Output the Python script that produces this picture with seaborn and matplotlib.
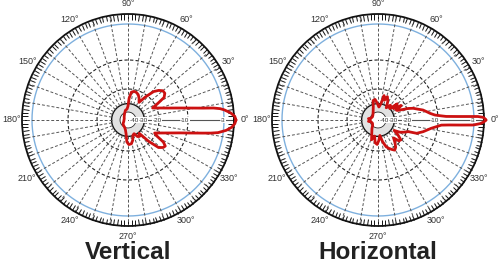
import numpy as np
import matplotlib
matplotlib.use("Agg")
import matplotlib.pyplot as plt
import seaborn as sns

sns.set_theme(style="white")
plt.rcParams["font.family"] = ["Liberation Sans", "DejaVu Sans"]

# ---------------- data (dB relative to peak, angle in degrees) ----------------
VERT_ANGLES = [0, 2, 4, 6, 7, 8, 9, 10, 12, 14, 17, 20, 23, 26, 29, 32, 36, 40, 44, 48,
               53, 58, 63, 68, 73, 78, 83, 87, 90, 95, 105, 120, 140, 160, 180, 200,
               215, 230, 245, 255, 262, 267, 272, 278, 283, 288, 294, 300, 305, 310,
               314, 318, 322, 325, 328, 331, 334, 337, 340, 343, 346, 348, 350, 351,
               352, 354, 356, 358, 360]
VERT_DB = [0, -0.3, -1.3, -2.8, -3.6, -4.9, -6.9, -8.3, -10.8, -13.6, -16.6, -18.6, -20.2,
           -22.5, -19.0, -16.0, -15.0, -15.0, -16.0, -17.5, -21.5, -27.0, -24.5, -22.5,
           -21.5, -21.2, -22.0, -26.2, -33.0, -36.4, -37.6, -42.5, -47.5, -50.0, -50.0,
           -48.7, -45.0, -42.5, -40.0, -37.6, -33.0, -26.2, -24.4, -24.8, -26.9, -30.5,
           -31.7, -28.1, -27.5, -29.4, -21.0, -16.5, -15.3, -15.0, -16.3, -19.3, -20.9,
           -19.2, -17.6, -15.4, -12.3, -9.5, -7.0, -5.4, -4.0, -2.3, -1.0, -0.3, 0]

HORZ_ANGLES = [0, 1, 1.5, 2, 2.5, 3, 3.7, 5, 7.3, 10, 12.5, 15.5, 18.4, 21, 23, 26, 28,
               32, 36, 40, 44, 50, 56, 62, 68, 72, 76, 80, 86, 92, 98, 104, 110, 120,
               135, 150, 165, 172, 178, 180, 182, 188, 195, 210, 225, 235, 245, 252,
               258, 263, 268, 272, 277, 282, 287, 291, 295, 299, 303, 307, 311, 315,
               319, 323, 327, 331, 335, 339, 341, 345.5, 351, 355.4, 356, 356.5, 357,
               358, 359, 360]
HORZ_DB = [0, -0.4, -0.8, -2.0, -6.1, -8.4, -9.3, -11.0, -12.6, -13.8, -14.8, -16.6,
           -17.9, -19.6, -22.8, -26.2, -27.0, -22.5, -28.0, -24.0, -30.0, -28.0, -32.0,
           -27.0, -24.0, -27.0, -24.0, -30.0, -34.0, -30.0, -27.0, -27.5, -33.0, -38.0,
           -42.0, -44.0, -42.0, -38.0, -40.0, -40.0, -40.0, -38.0, -42.0, -44.0, -41.0,
           -37.0, -32.0, -27.0, -30.0, -25.5, -24.5, -27.0, -31.0, -26.0, -22.0, -20.4,
           -19.5, -18.8, -19.5, -22.0, -25.0, -21.0, -20.5, -24.0, -28.0, -24.0, -21.5,
           -19.5, -16.6, -14.6, -12.2, -9.3, -7.8, -5.6, -3.1, -1.4, -0.5, 0]

RING_DB = [-40, -30, -20, -10, -3]
RING_LABELS = ["-40", "-30", "-20", "-10", "-3"]
ANGLE_TICKS = list(range(0, 360, 30))
ANGLE_LABELS = [f"{a}°" for a in ANGLE_TICKS]
TITLES = ["Vertical", "Horizontal"]

# ---------------- radial (modified log) scale ----------------
DB_KNOTS = np.array([-60.0, -40.0, -30.0, -20.0, -10.0, -3.0, 0.0])
R_KNOTS = np.array([0.0, 8.0, 16.4, 31.0, 60.0, 96.0, 108.0])
RTOP = -0.5   # outer ring


def fwd(x):
    return np.interp(np.asarray(x, dtype=float), DB_KNOTS, R_KNOTS)


def inv(y):
    return np.interp(np.asarray(y, dtype=float), R_KNOTS, DB_KNOTS)


RED = "#cc1111"
BLUE = "#7eb0de"

fig = plt.figure(figsize=(5, 2.67), dpi=100)
W, H = 500, 267
RPX = 106
centers = [(128, 120), (378, 120)]


def draw(ax, angles, db, title, cx):
    ax.set_rscale("function", functions=(fwd, inv))
    th = np.deg2rad(np.linspace(0, 360, 721))
    ax.fill_between(th, -40, -30, color="#e2e2e2", lw=0, zorder=1)
    ax.plot(th, np.full_like(th, -40.0), color="#222222", lw=0.6, zorder=2)
    ax.plot(th, np.full_like(th, -30.0), color="#111111", lw=1.0, zorder=2)
    for v in (-20, -10):
        ax.plot(th, np.full_like(th, float(v)), color="#222222", lw=0.8,
                ls=(0, (3, 2)), zorder=2)
    ax.plot(th, np.full_like(th, -3.0), color=BLUE, lw=1.0, zorder=2)
    for a in range(10, 360, 10):
        r = np.deg2rad(a)
        ax.plot([r, r], [-30, RTOP], color="#555555", lw=0.7, ls=(0, (3, 2)), zorder=2)
    ax.plot([0, 0], [-60, RTOP], color="#555555", lw=0.8, zorder=2)

    sns.lineplot(x=np.deg2rad(angles), y=db, sort=False, estimator=None, ax=ax,
                 color=RED, linewidth=2.0, clip_on=False, zorder=5)

    ax.set_rlim(-60, RTOP)
    ax.set_yticks([])
    ax.grid(False)
    ax.set_xlabel("")
    ax.set_ylabel("")
    ax.set_xticks(np.deg2rad(ANGLE_TICKS))
    ax.set_xticklabels(ANGLE_LABELS, fontsize=6.5, color="#333333")
    ax.set_xticks(np.deg2rad(np.arange(0, 360, 2)), minor=True)
    ax.tick_params(axis="x", which="both", direction="in", bottom=False, top=True,
                   length=4, width=0.7, color="#111111", pad=0.5)
    ax.spines["polar"].set_linewidth(1.3)
    ax.spines["polar"].set_color("#111111")

    offs = [-4.8, -1.3, -1.2, -1.1, -0.2]
    for v, lab, o in zip(RING_DB, RING_LABELS, offs):
        ax.text(0, v + o, lab, fontsize=4.6, color="#333333", ha="center", va="center",
                zorder=4, bbox=dict(boxstyle="square,pad=0.05", fc="white", ec="none"))

    fig.text(cx / W, 7.7 / H, title, ha="center", va="baseline", fontsize=17.5,
             fontweight="bold", color="#222222")


for (cx, cy), angles, db, title in zip(centers, [VERT_ANGLES, HORZ_ANGLES],
                                        [VERT_DB, HORZ_DB], TITLES):
    ax = fig.add_axes([(cx - RPX) / W, (H - cy - RPX) / H, 2 * RPX / W, 2 * RPX / H],
                      projection="polar")
    draw(ax, angles, db, title, cx)

fig.savefig("out.png", dpi=100, facecolor="white")
